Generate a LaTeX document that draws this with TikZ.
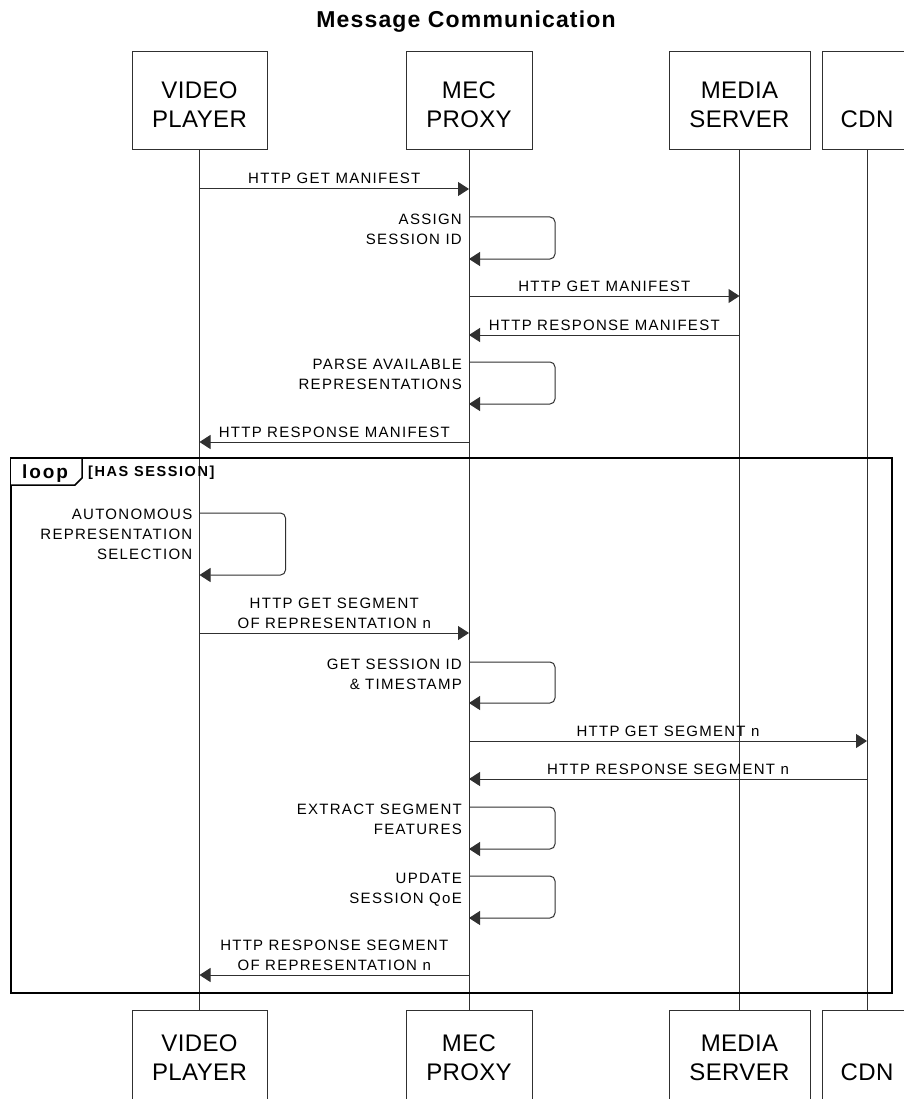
\documentclass[tikz,border=0pt]{standalone}
\usepackage{fontspec}
\setmainfont{Liberation Sans}
\newfontfamily\msgfont[LetterSpace=8.5]{Liberation Sans}
\newfontfamily\boxfont[LetterSpace=1.5]{Liberation Sans}
\newfontfamily\headfont[LetterSpace=5]{Liberation Sans}
\newfontfamily\tagfont[LetterSpace=10]{Liberation Sans}
\newfontfamily\guardfont[LetterSpace=11]{Liberation Sans}
\usetikzlibrary{arrows.meta}
\definecolor{ink}{HTML}{303030}

\begin{document}
\begin{tikzpicture}[x=1pt,y=-1pt,
  pbox/.style={draw=ink, line width=1pt, fill=white, rectangle, minimum height=98pt,
    inner sep=0pt, align=center, font=\boxfont\fontsize{24}{29}\selectfont,
    text height=53pt, text depth=0pt},
  footbox/.style={pbox, text height=42pt},
  life/.style={draw=ink, line width=1pt},
  msg/.style={draw=ink, line width=1pt, -{Triangle[length=11pt,width=14pt]}},
  selfmsg/.style={msg, rounded corners=5pt},
  lbl/.style={font=\msgfont\fontsize{15}{20}\selectfont, inner sep=0pt, anchor=base, align=center, yshift=5pt},
  slbl/.style={font=\msgfont\fontsize{15}{20}\selectfont, inner sep=0pt, anchor=base east, align=right, xshift=-7pt},
  frame/.style={draw=black, line width=2.5pt},
  tab/.style={draw=black, line width=1.5pt, fill=white, line join=miter},
]
\useasboundingbox (0,0) rectangle (903,1099);
\fill[white] (0,0) rectangle (903,1099);

% title
\node[font=\headfont\bfseries\fontsize{23}{27}\selectfont, anchor=base, inner sep=0pt] (title) at (466,28) {Message Communication};

% participants, head and foot
\node[pbox, minimum width=135pt] (vpT)  at (199.5,101) {VIDEO\\PLAYER};
\node[pbox, minimum width=126pt] (mecT) at (469,101)   {MEC\\PROXY};
\node[pbox, minimum width=141pt] (medT) at (739.5,101) {MEDIA\\SERVER};
\node[pbox, minimum width=90pt]  (cdnT) at (867,101)   {\mbox{}\\CDN};
\node[footbox, minimum width=135pt] (vpB)  at (199.5,1059) {VIDEO\\PLAYER};
\node[footbox, minimum width=126pt] (mecB) at (469,1059)   {MEC\\PROXY};
\node[footbox, minimum width=141pt] (medB) at (739.5,1059) {MEDIA\\SERVER};
\node[footbox, minimum width=90pt]  (cdnB) at (867,1059)   {\mbox{}\\CDN};

% lifelines
\draw[life] (vpT.south) -- (vpB.north);
\draw[life] (mecT.south) -- (mecB.north);
\draw[life] (medT.south) -- (medB.north);
\draw[life] (cdnT.south) -- (cdnB.north);

% loop fragment
\coordinate (fr1) at (11,458);
\coordinate (fr2) at (892,993);
\draw[frame] (fr1) rectangle (fr2);
\draw[tab] (fr1) -- (82,458) -- (82,478) -- (75,485) -- (11,485);
\node[font=\tagfont\bfseries\fontsize{19}{22}\selectfont, anchor=base, inner sep=0pt] (looptag) at (45,478) {loop};
\node[font=\guardfont\bfseries\fontsize{14.5}{16}\selectfont, anchor=base west, inner sep=0pt] (guard) at (88,476.5) {[HAS SESSION]};

% message endpoints on the lifelines
\coordinate (m1a) at (vpT |- 0,189);  \coordinate (m1b) at (mecT |- 0,189);
\coordinate (s1a) at (mecT |- 0,217); \coordinate (s1b) at (mecT |- 0,259);
\coordinate (m2a) at (mecT |- 0,296); \coordinate (m2b) at (medT |- 0,296);
\coordinate (m3a) at (medT |- 0,335); \coordinate (m3b) at (mecT |- 0,335);
\coordinate (s2a) at (mecT |- 0,362); \coordinate (s2b) at (mecT |- 0,404);
\coordinate (m4a) at (mecT |- 0,442); \coordinate (m4b) at (vpT |- 0,442);
\coordinate (s3a) at (vpT |- 0,513);  \coordinate (s3b) at (vpT |- 0,575);
\coordinate (m5a) at (vpT |- 0,633);  \coordinate (m5b) at (mecT |- 0,633);
\coordinate (s4a) at (mecT |- 0,662); \coordinate (s4b) at (mecT |- 0,703);
\coordinate (m6a) at (mecT |- 0,741); \coordinate (m6b) at (cdnT |- 0,741);
\coordinate (m7a) at (cdnT |- 0,779); \coordinate (m7b) at (mecT |- 0,779);
\coordinate (s5a) at (mecT |- 0,807); \coordinate (s5b) at (mecT |- 0,849);
\coordinate (s6a) at (mecT |- 0,876); \coordinate (s6b) at (mecT |- 0,918);
\coordinate (m8a) at (mecT |- 0,975); \coordinate (m8b) at (vpT |- 0,975);

% messages
\draw[msg] (m1a) -- node[lbl] {HTTP GET MANIFEST} (m1b);
\draw[selfmsg] (s1a) -- ++(86,0) |- (s1b);
\node[slbl, yshift=-27pt] at (s1a) {ASSIGN\\SESSION ID};
\draw[msg] (m2a) -- node[lbl] {HTTP GET MANIFEST} (m2b);
\draw[msg] (m3a) -- node[lbl] {HTTP RESPONSE MANIFEST} (m3b);
\draw[selfmsg] (s2a) -- ++(86,0) |- (s2b);
\node[slbl, yshift=-27pt] at (s2a) {PARSE AVAILABLE\\REPRESENTATIONS};
\draw[msg] (m4a) -- node[lbl] {HTTP RESPONSE MANIFEST} (m4b);

\draw[selfmsg] (s3a) -- ++(86,0) |- (s3b);
\node[slbl, yshift=-46.5pt] at (s3a) {AUTONOMOUS\\REPRESENTATION\\SELECTION};
\draw[msg] (m5a) -- node[lbl] {HTTP GET SEGMENT\\OF REPRESENTATION n} (m5b);
\draw[selfmsg] (s4a) -- ++(86,0) |- (s4b);
\node[slbl, yshift=-27pt] at (s4a) {GET SESSION ID\\\& TIMESTAMP};
\draw[msg] (m6a) -- node[lbl] {HTTP GET SEGMENT n} (m6b);
\draw[msg] (m7a) -- node[lbl] {HTTP RESPONSE SEGMENT n} (m7b);
\draw[selfmsg] (s5a) -- ++(86,0) |- (s5b);
\node[slbl, yshift=-27pt] at (s5a) {EXTRACT SEGMENT\\FEATURES};
\draw[selfmsg] (s6a) -- ++(86,0) |- (s6b);
\node[slbl, yshift=-27pt] at (s6a) {UPDATE\\SESSION QoE};
\draw[msg] (m8a) -- node[lbl] {HTTP RESPONSE SEGMENT\\OF REPRESENTATION n} (m8b);
\end{tikzpicture}
\end{document}
